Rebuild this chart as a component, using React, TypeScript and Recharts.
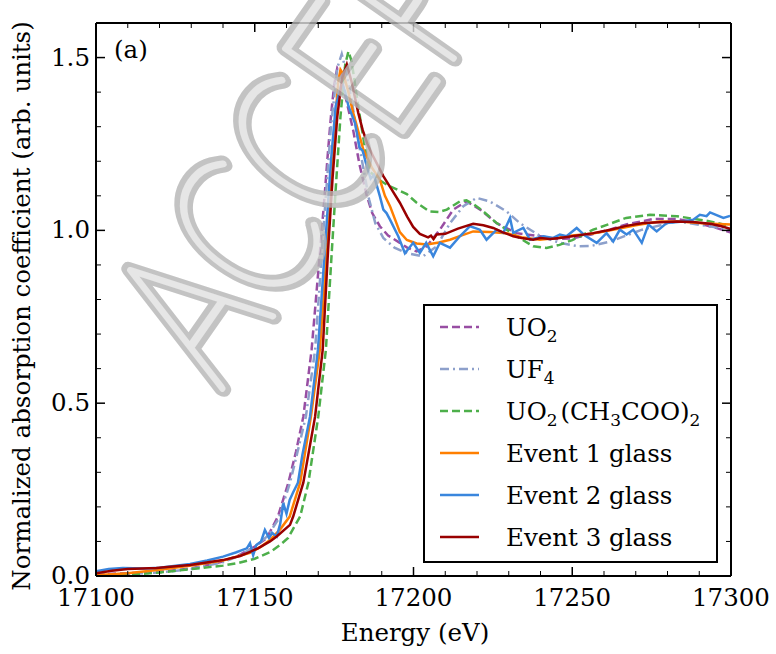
import React from 'react';
import { LineChart, Line, XAxis, YAxis, Legend } from 'recharts';

// ---- data (energy eV, normalized absorption) ----
const uo2: number[][] = [
  [17100, 0.005], [17110, 0.008], [17120, 0.012], [17130, 0.022], [17140, 0.042], [17145, 0.06],
  [17150, 0.085], [17153.8, 0.11], [17157.3, 0.172], [17160.6, 0.27], [17163, 0.36], [17165.3, 0.461],
  [17167.9, 0.654], [17170.6, 0.944], [17172, 1.1], [17173, 1.22], [17174, 1.33], [17175, 1.42],
  [17176, 1.47], [17177, 1.46], [17178, 1.41], [17179, 1.37], [17181, 1.29], [17183, 1.19],
  [17185.3, 1.1], [17187, 1.05], [17189.4, 1.012], [17192, 0.985], [17195.7, 0.964], [17198, 0.95],
  [17201, 0.939], [17204.2, 0.954], [17208.3, 1.002], [17212.5, 1.06], [17216.7, 1.084], [17221, 1.06],
  [17226.2, 1.021], [17232.5, 0.992], [17240, 0.983], [17245, 0.975], [17250, 0.977], [17256, 0.988],
  [17262, 1.003], [17267, 1.017], [17275.5, 1.033], [17283, 1.033], [17290, 1.02], [17295, 1.008],
  [17300, 0.994],
];
const uf4: number[][] = [
  [17100, 0.004], [17110, 0.006], [17120, 0.01], [17130, 0.02], [17140, 0.04], [17145, 0.058],
  [17150, 0.085], [17154, 0.115], [17157.5, 0.165], [17161.1, 0.27], [17163.5, 0.36], [17166.1, 0.461],
  [17169, 0.654], [17170.5, 0.85], [17172, 1.05], [17174, 1.3], [17176, 1.47], [17177.4, 1.51],
  [17178.5, 1.47], [17180.5, 1.378], [17182, 1.29], [17184, 1.19], [17186, 1.09], [17188, 1.02],
  [17190.5, 0.978], [17194, 0.95], [17198, 0.934], [17203, 0.925], [17207.3, 0.954], [17211.5, 1.021],
  [17215.7, 1.07], [17219.9, 1.094], [17224, 1.084], [17229.3, 1.055], [17233.5, 1.021], [17240, 0.983],
  [17246, 0.964], [17252, 0.954], [17256, 0.955], [17262, 0.968], [17272, 1.002], [17283, 1.026],
  [17293, 1.012], [17300, 1.002],
];
const uo2Acetate: number[][] = [
  [17100, 0.0], [17110, 0.003], [17120, 0.01], [17130, 0.02], [17140, 0.03], [17145, 0.038],
  [17150, 0.05], [17155, 0.07], [17158, 0.09], [17160.5, 0.11], [17162, 0.135], [17164.3, 0.172],
  [17166.9, 0.27], [17170, 0.461], [17172.4, 0.654], [17174.3, 0.944], [17175.5, 1.12], [17177, 1.33],
  [17178.5, 1.48], [17179.5, 1.518], [17180.5, 1.49], [17182.6, 1.359], [17184.5, 1.25], [17186.3, 1.17],
  [17189, 1.147], [17192, 1.13], [17197.9, 1.105], [17201, 1.08], [17205, 1.055], [17208, 1.053],
  [17210.5, 1.06], [17214.6, 1.084], [17216.7, 1.087], [17219, 1.075], [17222, 1.055], [17226.2, 1.021],
  [17232.5, 0.983], [17237.7, 0.954], [17241.9, 0.949], [17246, 0.958], [17250, 0.972], [17256.6, 1.002],
  [17267, 1.036], [17274.5, 1.045], [17283, 1.041], [17293.4, 1.026], [17300, 1.012],
];
const event1: number[][] = [
  [17100, 0.003], [17105, 0.005], [17110, 0.008], [17120, 0.018], [17130, 0.03], [17140, 0.045],
  [17148.5, 0.067], [17152, 0.085], [17154.8, 0.104], [17158, 0.135], [17161, 0.172], [17164.3, 0.27],
  [17167.7, 0.461], [17170.5, 0.654], [17172, 0.85], [17173.5, 1.05], [17175, 1.28], [17176.3, 1.43],
  [17177, 1.465], [17178, 1.45], [17179.5, 1.4], [17181, 1.34], [17184.2, 1.234], [17187, 1.18],
  [17189.4, 1.147], [17191, 1.1], [17192.6, 1.07], [17195.7, 0.995], [17197.9, 0.972], [17201, 0.962],
  [17204.2, 0.959], [17208, 0.965], [17211.5, 0.973], [17215, 0.985], [17218.8, 0.997], [17224, 0.995],
  [17229.3, 0.992], [17234, 0.98], [17239.8, 0.973], [17245, 0.978], [17250, 0.985], [17256, 0.99],
  [17262, 1.0], [17270, 1.015], [17277.6, 1.026], [17285, 1.025], [17292, 1.02], [17300, 1.017],
];
const event2: number[][] = [
  [17100, 0.014], [17104, 0.02], [17108.5, 0.023], [17115, 0.022], [17120, 0.024], [17129.6, 0.035],
  [17135, 0.045], [17140, 0.056], [17144, 0.068], [17147.5, 0.08], [17148.5, 0.095], [17149.5, 0.06],
  [17150.5, 0.09], [17152, 0.1], [17153.2, 0.133], [17154.5, 0.11], [17155.5, 0.125], [17156.9, 0.114],
  [17158, 0.15], [17159, 0.21], [17160, 0.18], [17161, 0.22], [17162, 0.24], [17163.6, 0.27],
  [17165, 0.35], [17167.4, 0.461], [17169.9, 0.654], [17171, 0.8], [17172.5, 1.0], [17174, 1.2],
  [17175.5, 1.36], [17177.4, 1.426], [17178.5, 1.4], [17179.5, 1.36], [17181.6, 1.31], [17183, 1.24],
  [17184, 1.23], [17185.3, 1.185], [17186.5, 1.15], [17187.5, 1.16], [17189.4, 1.099], [17190.5, 1.06],
  [17191.5, 1.05], [17192.6, 1.031], [17195.2, 0.983], [17197.3, 0.934], [17199.9, 0.964], [17202, 0.935],
  [17204, 0.964], [17206.2, 0.925], [17208.3, 0.964], [17211.5, 0.95], [17214.6, 0.983], [17217.8, 1.012],
  [17220.9, 1.002], [17223, 0.973], [17226.2, 1.002], [17228.3, 0.993], [17230.4, 1.036], [17231.4, 0.993],
  [17234.6, 1.007], [17236.7, 0.973], [17240.9, 0.983], [17244, 0.978], [17246.1, 0.988], [17248.2, 0.983],
  [17251.4, 1.007], [17254, 0.985], [17257.7, 0.964], [17260.8, 0.992], [17262.9, 0.968], [17265, 1.002],
  [17267.1, 0.988], [17269.2, 1.002], [17271.9, 0.964], [17274, 1.017], [17276.6, 0.997], [17279.7, 1.021],
  [17284, 1.025], [17288.1, 1.031], [17290.2, 1.045], [17292.3, 1.041], [17293.4, 1.052], [17297.6, 1.036],
  [17299.7, 1.042],
];
const event3: number[][] = [
  [17100, 0.008], [17105, 0.015], [17110, 0.02], [17119, 0.023], [17129.6, 0.032], [17140, 0.046],
  [17145.4, 0.058], [17148.5, 0.07], [17151, 0.08], [17154.8, 0.1], [17157, 0.115], [17161.1, 0.148],
  [17162.1, 0.172], [17165.3, 0.27], [17169, 0.461], [17171.4, 0.654], [17173.1, 0.944], [17174.5, 1.15],
  [17176, 1.33], [17177.5, 1.44], [17179, 1.48], [17180.5, 1.43], [17182.6, 1.34], [17184, 1.29],
  [17185.5, 1.25], [17187.3, 1.214], [17190.5, 1.157], [17193, 1.12], [17195.7, 1.08], [17198, 1.04],
  [17199.9, 1.01], [17202, 0.99], [17204.6, 0.98], [17205.5, 0.985], [17206.3, 0.975], [17207.3, 0.988],
  [17210, 0.99], [17214, 1.005], [17218.8, 1.019], [17222, 1.015], [17225.1, 1.007], [17228, 0.995],
  [17231.4, 0.983], [17234, 0.978], [17237.7, 0.973], [17240, 0.978], [17243, 0.975], [17246, 0.978],
  [17250, 0.983], [17256.6, 0.992], [17262, 1.002], [17267, 1.013], [17272.4, 1.021], [17282.9, 1.026],
  [17288, 1.024], [17293.4, 1.019], [17297, 1.012], [17300, 1.004],
];

const seriesNames = ['UO2', 'UF4', 'UO2(CH3COO)2', 'Event 1 glass', 'Event 2 glass', 'Event 3 glass'];
const seriesValues = [uo2, uf4, uo2Acetate, event1, event2, event3];

const xTicks = [17100, 17110, 17120, 17130, 17140, 17150, 17160, 17170, 17180, 17190, 17200,
  17210, 17220, 17230, 17240, 17250, 17260, 17270, 17280, 17290, 17300];
const yTicks = [0, 0.1, 0.2, 0.3, 0.4, 0.5, 0.6, 0.7, 0.8, 0.9, 1.0, 1.1, 1.2, 1.3, 1.4, 1.5, 1.6];

const xTitle = 'Energy (eV)';
const yTitle = 'Normalized absorption coefficient (arb. units)';
const panelLabel = '(a)';
const watermark = 'ACCEPTED';

// ---- styles ----
const FONT = '"DejaVu Serif", serif';
const FS = 24.5;
const styles = [
  { color: '#984ea3', dash: '8 4' },
  { color: '#8da0cb', dash: '9 4 2 4' },
  { color: '#4daf4a', dash: '8 4' },
  { color: '#ff7f00', dash: undefined },
  { color: '#3a86dd', dash: undefined },
  { color: '#990000', dash: undefined },
];

const toData = (pts: number[][]) => pts.map(([x, y]) => ({ x, y }));

const isMajorX = (v: number) => Math.round(v) % 50 === 0;
const isMajorY = (v: number) => Math.round(v * 10) % 5 === 0;

const XTickBottom = (p: any) => {
  const { x, y, payload } = p;
  const major = isMajorX(payload.value);
  return (
    <g>
      <line x1={x} x2={x} y1={y} y2={y - (major ? 9 : 5)} stroke="#000" strokeWidth={major ? 1.5 : 1} />
      {major && (
        <text x={x} y={y + 30} textAnchor="middle" fontFamily={FONT} fontSize={FS} fill="#000">
          {payload.value}
        </text>
      )}
    </g>
  );
};
const XTickTop = (p: any) => {
  const { x, y, payload } = p;
  const major = isMajorX(payload.value);
  return <line x1={x} x2={x} y1={y} y2={y + (major ? 9 : 5)} stroke="#000" strokeWidth={major ? 1.5 : 1} />;
};
const YTickLeft = (p: any) => {
  const { x, y, payload } = p;
  const major = isMajorY(payload.value);
  return (
    <g>
      <line x1={x} x2={x + (major ? 9 : 5)} y1={y} y2={y} stroke="#000" strokeWidth={major ? 1.5 : 1} />
      {major && payload.value < 1.55 && (
        <text x={x - 6} y={y + 8} textAnchor="end" fontFamily={FONT} fontSize={FS} fill="#000">
          {Number(payload.value).toFixed(1)}
        </text>
      )}
    </g>
  );
};
const YTickRight = (p: any) => {
  const { x, y, payload } = p;
  const major = isMajorY(payload.value);
  return <line x1={x} x2={x - (major ? 9 : 5)} y1={y} y2={y} stroke="#000" strokeWidth={major ? 1.5 : 1} />;
};

// formula label: digits become subscripts
const renderName = (name: string, x: number, y: number) => {
  if (name.startsWith('Event')) {
    return (
      <text x={x} y={y} fontFamily={FONT} fontSize={FS} fill="#000">{name}</text>
    );
  }
  const parts: { t: string; sub: boolean }[] = [];
  for (const ch of name) {
    const sub = /[0-9]/.test(ch);
    const last = parts[parts.length - 1];
    if (last && last.sub === sub) last.t += ch;
    else parts.push({ t: ch, sub });
  }
  return (
    <text x={x} y={y} fontFamily={FONT} fontSize={FS} fill="#000">
      {parts.map((pt, i) =>
        pt.sub ? (
          <tspan key={i} fontSize={17} dy={6}>{pt.t}</tspan>
        ) : (
          <tspan key={i} dy={i === 0 ? 0 : -6} dx={i > 0 && pt.t.startsWith('(') ? 3 : 0}>{pt.t}</tspan>
        )
      )}
    </text>
  );
};

const LegendBox = () => (
  <svg width={295} height={259} style={{ display: 'block' }}>
    <rect x={1} y={1} width={293} height={257} fill="#fff" stroke="#000" strokeWidth={2} />
    {seriesNames.map((n, i) => {
      const cy = 23 + i * 42;
      return (
        <g key={n}>
          <line x1={17} x2={56} y1={cy} y2={cy} stroke={styles[i].color} strokeWidth={2.5}
            strokeDasharray={styles[i].dash} />
          {renderName(n, 83, cy + 8.5)}
        </g>
      );
    })}
  </svg>
);

const WM_X = 220;
const WM_Y = 392;
const wmTransform = `translate(${WM_X} ${WM_Y}) rotate(-55) scale(0.74 1)`;

export default function App() {
  return (
    <div style={{ position: 'absolute', left: 0, top: 0, width: 776, height: 654, background: '#fff' }}>
      <LineChart width={776} height={654} margin={{ top: 0, right: 0, bottom: 0, left: 0 }}>
        <XAxis xAxisId="b" dataKey="x" type="number" domain={[17100, 17300]} ticks={xTicks} interval={0}
          allowDataOverflow orientation="bottom" height={78} tickLine={false} tickSize={0} tickMargin={0}
          axisLine={{ stroke: '#000', strokeWidth: 2 }} tick={<XTickBottom />} />
        <XAxis xAxisId="t" dataKey="x" type="number" domain={[17100, 17300]} ticks={xTicks} interval={0}
          allowDataOverflow orientation="top" height={23} tickLine={false} tickSize={0} tickMargin={0}
          axisLine={{ stroke: '#000', strokeWidth: 2 }} tick={<XTickTop />} />
        <YAxis yAxisId="l" type="number" domain={[0, 1.6]} ticks={yTicks} interval={0} allowDataOverflow
          orientation="left" width={96} tickLine={false} tickSize={0} tickMargin={0}
          axisLine={{ stroke: '#000', strokeWidth: 2 }} tick={<YTickLeft />} />
        <YAxis yAxisId="r" type="number" domain={[0, 1.6]} ticks={yTicks} interval={0} allowDataOverflow
          orientation="right" width={45} tickLine={false} tickSize={0} tickMargin={0}
          axisLine={{ stroke: '#000', strokeWidth: 2 }} tick={<YTickRight />} />
        {seriesValues.map((vals, i) => (
          <Line key={seriesNames[i]} name={seriesNames[i]} data={toData(vals)} dataKey="y" xAxisId="b" yAxisId="l"
            type="linear" stroke={styles[i].color} strokeWidth={2.5} strokeDasharray={styles[i].dash}
            dot={false} activeDot={false} isAnimationActive={false} />
        ))}
        <Legend layout="vertical" align="center" verticalAlign="middle" content={() => <LegendBox />}
          wrapperStyle={{ position: 'absolute', left: 423, top: 304, width: 295, height: 259 }} />
      </LineChart>
      <svg width={776} height={654} style={{ position: 'absolute', left: 0, top: 0, pointerEvents: 'none' }}>
        <text x={114} y={58} fontFamily={FONT} fontSize={FS} fill="#000">{panelLabel}</text>
        <text x={415} y={641} textAnchor="middle" fontFamily={FONT} fontSize={FS} fill="#000">{xTitle}</text>
        <text x={30} y={306} textAnchor="middle" fontFamily={FONT} fontSize={FS} fill="#000"
          transform="rotate(-90 30 306)">{yTitle}</text>
        <g opacity={0.8} transform={wmTransform}>
          <text x={0} y={0} fontFamily="Lato" fontWeight={100} fontSize={205} fill="none"
            stroke="#b5b5b5" strokeWidth={18} strokeLinejoin="round" strokeLinecap="round">{watermark}</text>
          <text x={0} y={0} fontFamily="Lato" fontWeight={100} fontSize={205} fill="none"
            stroke="#e0e0e0" strokeWidth={6} strokeLinejoin="round" strokeLinecap="round">{watermark}</text>
        </g>
      </svg>
    </div>
  );
}
